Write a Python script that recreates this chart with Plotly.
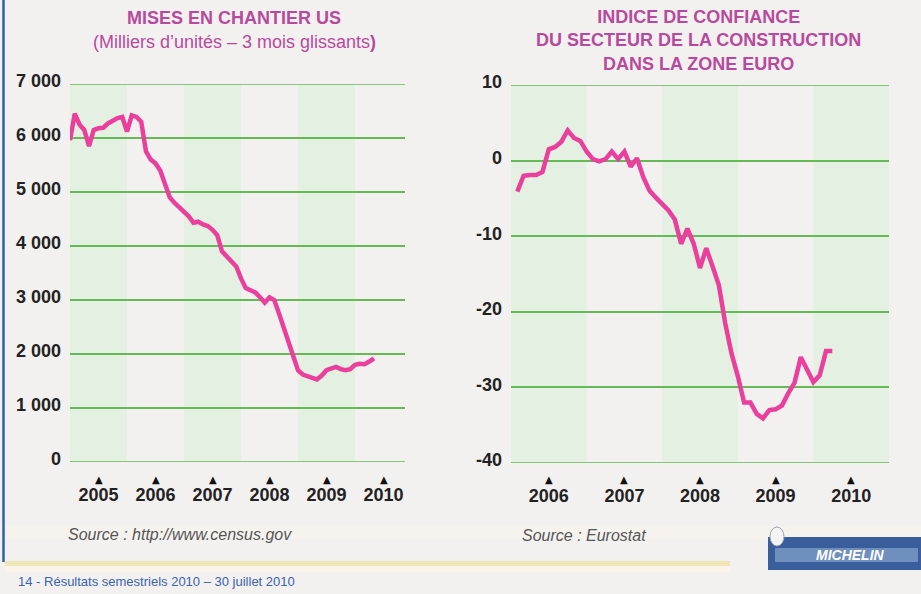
import plotly.graph_objects as go

W, H = 921, 594

# ---------------- data ----------------
# US housing starts (thousands of units, 3-month rolling), monthly from Jan 2005
us_start_year = 2005
us_starts = [5960, 6450, 6250, 6150, 5850, 6150, 6180, 6190, 6270, 6320, 6370, 6390,
             6120, 6420, 6390, 6300, 5750, 5600, 5530, 5400, 5130, 4900, 4800, 4720,
             4640, 4550, 4430, 4450, 4400, 4370, 4300, 4200, 3900, 3800, 3700, 3620,
             3400, 3220, 3180, 3140, 3050, 2950, 3050, 3000, 2750, 2500, 2250, 2000,
             1700, 1620, 1580, 1560, 1530, 1600, 1700, 1730, 1760, 1720, 1700, 1720,
             1800, 1820, 1810, 1860, 1920]

# Euro zone construction confidence index, monthly from Feb 2006
eu_start_year = 2006
eu_start_month = 1
eu_conf = [-4.1, -2.0, -1.9, -1.9, -1.5, 1.5, 1.8, 2.5, 4.0, 3.0, 2.6,
           1.2, 0.2, -0.1, 0.2, 1.2, 0.2, 1.2, -0.8, 0.3, -2.2, -4.0, -4.9,
           -5.7, -6.6, -7.8, -11.0, -9.0, -11.0, -14.2, -11.6, -14.0, -16.5, -21.5, -25.5,
           -28.5, -32.0, -32.0, -33.5, -34.1, -33.0, -32.9, -32.4, -30.8, -29.4, -26.0, -27.8,
           -29.3, -28.4, -25.2, -25.2]

us_years = [2005, 2006, 2007, 2008, 2009, 2010]
eu_years = [2006, 2007, 2008, 2009, 2010]
us_ticks = [0, 1000, 2000, 3000, 4000, 5000, 6000, 7000]
us_tick_text = ["0", "1 000", "2 000", "3 000", "4 000", "5 000", "6 000", "7 000"]
eu_ticks = [-40, -30, -20, -10, 0, 10]
eu_tick_text = ["-40", "-30", "-20", "-10", "0", "10"]

us_x = [us_start_year + i / 12 for i in range(len(us_starts))]
eu_x = [eu_start_year + (eu_start_month + i) / 12 for i in range(len(eu_conf))]

# ---------------- style ----------------
BG = "#f2f1ef"
BAND = "#e3f0e2"
GRID = "#66b957"
PINK = "#ea3f9c"
TITLE = "#b84a9e"
TXT = "#222222"
FONT = "Liberation Sans, Arial, sans-serif"


def px(x):
    return x / W


def py(y):
    return 1 - y / H


fig = go.Figure()

fig.add_trace(go.Scatter(x=us_x, y=us_starts, mode="lines",
                         line=dict(color=PINK, width=4.5), xaxis="x", yaxis="y",
                         showlegend=False, hoverinfo="skip"))
fig.add_trace(go.Scatter(x=eu_x, y=eu_conf, mode="lines",
                         line=dict(color=PINK, width=4.5), xaxis="x2", yaxis="y2",
                         showlegend=False, hoverinfo="skip"))

shapes = []
# year bands
for i, yr in enumerate(us_years):
    if i % 2 == 0:
        shapes.append(dict(type="rect", xref="x", yref="y domain", x0=yr, x1=yr + 1,
                           y0=0, y1=1, fillcolor=BAND, line=dict(width=0), layer="below"))
for i, yr in enumerate(eu_years):
    if i % 2 == 0:
        shapes.append(dict(type="rect", xref="x2", yref="y2 domain", x0=yr, x1=yr + 1,
                           y0=0, y1=1, fillcolor=BAND, line=dict(width=0), layer="below"))

# gridlines on the range edges (plotly skips them)
for v in (us_ticks[0], us_ticks[-1]):
    shapes.append(dict(type="line", xref="x domain", yref="y", x0=0, x1=1, y0=v, y1=v,
                       line=dict(color=GRID, width=1.5), layer="below"))
for v in (eu_ticks[0], eu_ticks[-1]):
    shapes.append(dict(type="line", xref="x2 domain", yref="y2", x0=0, x1=1, y0=v, y1=v,
                       line=dict(color=GRID, width=1.5), layer="below"))

# page decorations
shapes += [
    dict(type="rect", xref="paper", yref="paper", x0=0, x1=1, y0=py(538), y1=py(526),
         fillcolor="#f6f3ef", line=dict(width=0), layer="below"),
    dict(type="rect", xref="paper", yref="paper", x0=px(5), x1=px(730), y0=py(566), y1=py(561),
         fillcolor="#efe6b8", line=dict(width=0), layer="below"),
    dict(type="rect", xref="paper", yref="paper", x0=px(5), x1=px(730), y0=py(572), y1=py(566),
         fillcolor="#fbf4ea", line=dict(width=0), layer="below"),
    dict(type="line", xref="paper", yref="paper", x0=px(3.5), x1=px(3.5), y0=py(0), y1=py(562),
         line=dict(color="#2f5fae", width=2.5)),
    # Michelin logo approximation
    dict(type="rect", xref="paper", yref="paper", x0=px(768), x1=px(921), y0=py(570), y1=py(537),
         fillcolor="#3a5d9c", line=dict(width=0)),
    dict(type="rect", xref="paper", yref="paper", x0=px(775), x1=px(918), y0=py(562), y1=py(548),
         fillcolor="#6f8fbf", line=dict(width=0)),
    dict(type="circle", xref="paper", yref="paper", x0=px(770), x1=px(784), y0=py(546), y1=py(527),
         fillcolor="#f4f4f4", line=dict(color="#9aa3b0", width=1)),
]

annotations = [
    dict(text="<b>MISES EN CHANTIER US</b>", x=px(234), y=py(18), xref="paper", yref="paper",
         showarrow=False, font=dict(size=18, color=TITLE, family=FONT), xanchor="center", yanchor="middle"),
    dict(text="(Milliers d’unités – 3 mois glissants<b>)</b>", x=px(234), y=py(42), xref="paper", yref="paper",
         showarrow=False, font=dict(size=18, color=TITLE, family=FONT), xanchor="center", yanchor="middle"),
    dict(text="<b>INDICE DE CONFIANCE<br>DU SECTEUR DE LA CONSTRUCTION<br>DANS LA ZONE EURO</b>",
         x=px(698), y=py(41), xref="paper", yref="paper", showarrow=False,
         font=dict(size=18, color=TITLE, family=FONT), xanchor="center", yanchor="middle", align="center"),
    dict(text="<i>Source : http://www.census.gov</i>", x=px(66), y=py(534), xref="paper", yref="paper",
         showarrow=False, font=dict(size=16, color="#555555", family=FONT), xanchor="left", yanchor="middle"),
    dict(text="<i>Source : Eurostat</i>", x=px(520), y=py(535), xref="paper", yref="paper",
         showarrow=False, font=dict(size=16, color="#555555", family=FONT), xanchor="left", yanchor="middle"),
    dict(text="14 - Résultats semestriels 2010 – 30 juillet 2010", x=px(16), y=py(581), xref="paper",
         yref="paper", showarrow=False, font=dict(size=13, color="#3b63b0", family=FONT),
         xanchor="left", yanchor="middle"),
    dict(text="<b><i>MICHELIN</i></b>", x=px(850), y=py(555), xref="paper", yref="paper",
         showarrow=False, font=dict(size=14, color="#ffffff", family=FONT),
         xanchor="center", yanchor="middle"),
]

# triangle markers above the year labels
for yr in us_years:
    annotations.append(dict(text="▲", x=yr + 0.5, y=py(479), xref="x", yref="paper",
                            showarrow=False, font=dict(size=10, color="#111111", family="DejaVu Sans"),
                            xanchor="center", yanchor="middle"))
for yr in eu_years:
    annotations.append(dict(text="▲", x=yr + 0.5, y=py(479), xref="x2", yref="paper",
                            showarrow=False, font=dict(size=10, color="#111111", family="DejaVu Sans"),
                            xanchor="center", yanchor="middle"))

axis_font = dict(size=18, color=TXT, family=FONT, weight="bold")

fig.update_layout(
    template="none",
    width=W, height=H, autosize=False,
    margin=dict(l=0, r=0, t=0, b=0, pad=0, autoexpand=False),
    paper_bgcolor=BG, plot_bgcolor=BG, showlegend=False,
    shapes=shapes, annotations=annotations,
    xaxis=dict(domain=[px(70), px(405)], range=[2005, 2005 + 335 / 57], showgrid=False,
               zeroline=False, showline=False, tickvals=[y + 0.5 for y in us_years],
               ticktext=[str(y) for y in us_years], ticks="", tickfont=axis_font,
               ticklabelstandoff=20, automargin=False, fixedrange=True),
    yaxis=dict(domain=[py(462), py(84)], range=[0, 7000], showgrid=True, gridcolor=GRID,
               gridwidth=1.5, zeroline=False, showline=False, tickvals=us_ticks,
               ticktext=us_tick_text, ticks="", tickfont=axis_font, ticklabelstandoff=8,
               ticklabelshift=-3, automargin=False, fixedrange=True),
    xaxis2=dict(domain=[px(511), px(889)], range=[2006, 2011], showgrid=False,
                zeroline=False, showline=False, tickvals=[y + 0.5 for y in eu_years],
                ticktext=[str(y) for y in eu_years], ticks="", tickfont=axis_font,
                ticklabelstandoff=20, anchor="y2", automargin=False, fixedrange=True),
    yaxis2=dict(domain=[py(463), py(85)], range=[-40, 10], showgrid=True, gridcolor=GRID,
                gridwidth=1.5, zeroline=True, zerolinecolor=GRID, zerolinewidth=1.5,
                showline=False, tickvals=eu_ticks, ticktext=eu_tick_text, ticks="",
                tickfont=axis_font, ticklabelstandoff=8, ticklabelshift=-3, anchor="x2",
                automargin=False, fixedrange=True),
)

fig.write_html("out.html", config={"displayModeBar": False, "responsive": False},
               post_script="document.body.style.margin='0';document.body.style.overflow='hidden';")
